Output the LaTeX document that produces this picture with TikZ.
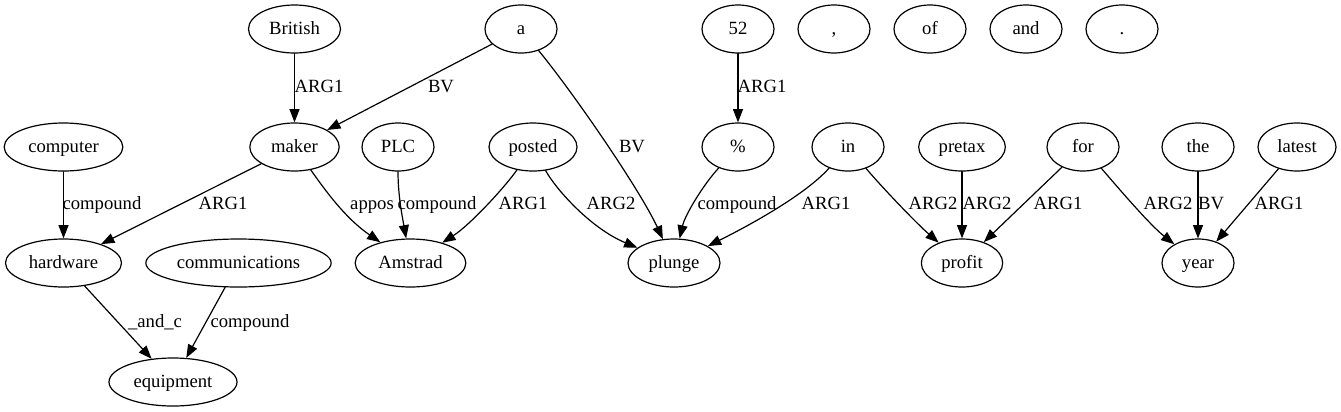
\documentclass[tikz,border=0pt]{standalone}
\usepackage{fontspec}
\setmainfont{Liberation Serif}
\newfontfamily\dotfont{Liberation Serif}
\usetikzlibrary{shapes.geometric,arrows.meta}

\begin{document}
\begin{tikzpicture}[line cap=round,line join=round,>={Triangle[length=10pt,width=7.5pt]},x=0.75pt,y=-0.75pt,
		word/.style={ellipse,draw,line width=0.9pt,minimum width=54pt,minimum height=36pt,inner sep=0pt,text height=11pt,text depth=3pt,font=\dotfont\fontsize{14}{16}\selectfont},
		rel/.style={->,line width=0.9pt},
		lbl/.style={inner sep=0pt,text height=11pt,text depth=3pt,font=\dotfont\fontsize{14}{16}\selectfont}]
		\useasboundingbox (0,0) rectangle (1341,411);
		\node[word,minimum width=69pt] (British) at (294.5,29) {British};
		\node[word] (a) at (521,29) {a};
		\node[word] (fiftytwo) at (738,29) {52};
		\node[word] (comma) at (834,29) {,};
		\node[word] (of) at (930,29) {of};
		\node[word] (and) at (1026,29) {and};
		\node[word] (period) at (1122,29) {.};
		\node[word,minimum width=89pt] (computer) at (63.5,147) {computer};
		\node[word,minimum width=67pt] (maker) at (294.5,147) {maker};
		\node[word] (PLC) at (398,147) {PLC};
		\node[word,minimum width=66pt] (posted) at (533,147) {posted};
		\node[word] (percent) at (738,147) {\%};
		\node[word] (in) at (848,147) {in};
		\node[word,minimum width=65pt] (pretax) at (962,147) {pretax};
		\node[word] (for) at (1083,147) {for};
		\node[word] (the) at (1198,147) {the};
		\node[word,minimum width=58.5pt] (latest) at (1297,147) {latest};
		\node[word,minimum width=87pt] (hardware) at (63.5,263) {hardware};
		\node[word,minimum width=139pt] (communications) at (238.5,263) {communications};
		\node[word,minimum width=83pt] (Amstrad) at (410.5,263) {Amstrad};
		\node[word,minimum width=69pt] (plunge) at (674,263) {plunge};
		\node[word,minimum width=61pt] (profit) at (962,263) {profit};
		\node[word] (year) at (1198,263) {year};
		\node[word,minimum width=96pt] (equipment) at (173,382) {equipment};
		\draw[rel] (British) -- (maker);
		\draw[rel] (a) -- (maker);
		\draw[rel] (a) .. controls (575,95) and (640,190) .. (plunge);
		\draw[rel] (fiftytwo) -- (percent);
		\draw[rel] (computer) -- (hardware);
		\draw[rel] (maker) -- (hardware);
		\draw[rel] (maker) .. controls (325,190) and (345,218) .. (Amstrad);
		\draw[rel] (PLC) .. controls (398,195) and (402,215) .. (Amstrad);
		\draw[rel] (posted) .. controls (505,187) and (470,225) .. (Amstrad);
		\draw[rel] (posted) .. controls (555,188) and (590,228) .. (plunge);
		\draw[rel] (percent) .. controls (703,185) and (685,215) .. (plunge);
		\draw[rel] (in) .. controls (805,195) and (750,225) .. (plunge);
		\draw[rel] (in) .. controls (880,185) and (915,222) .. (profit);
		\draw[rel] (pretax) -- (profit);
		\draw[rel] (for) -- (profit);
		\draw[rel] (for) .. controls (1120,190) and (1150,225) .. (year);
		\draw[rel] (the) -- (year);
		\draw[rel] (latest) -- (year);
		\draw[rel] (hardware) -- (equipment);
		\draw[rel] (communications) -- (equipment);
		\node[lbl] (lBritish) at (319,87) {ARG1};
		\node[lbl] (laMaker) at (441,87) {BV};
		\node[lbl] (laPlunge) at (632,147) {BV};
		\node[lbl] (lfiftytwo) at (762,87) {ARG1};
		\node[lbl] (lcomputer) at (102,204) {compound};
		\node[lbl] (lmaker) at (223,204) {ARG1};
		\node[lbl] (lappos) at (372,204) {appos};
		\node[lbl] (lPLC) at (437,204) {compound};
		\node[lbl] (lpostedA) at (523,204) {ARG1};
		\node[lbl] (lpostedP) at (611,204) {ARG2};
		\node[lbl] (lpercent) at (737,204) {compound};
		\node[lbl] (linP) at (826,204) {ARG1};
		\node[lbl] (linQ) at (933,204) {ARG2};
		\node[lbl] (lpretax) at (987,204) {ARG2};
		\node[lbl] (lforP) at (1058,204) {ARG1};
		\node[lbl] (lforY) at (1168,204) {ARG2};
		\node[lbl] (lthe) at (1211,204) {BV};
		\node[lbl] (llatest) at (1279,204) {ARG1};
		\node[lbl] (lhardware) at (155,322) {\_and\_c};
		\node[lbl] (lcomm) at (250,322) {compound};
\end{tikzpicture}
\end{document}
